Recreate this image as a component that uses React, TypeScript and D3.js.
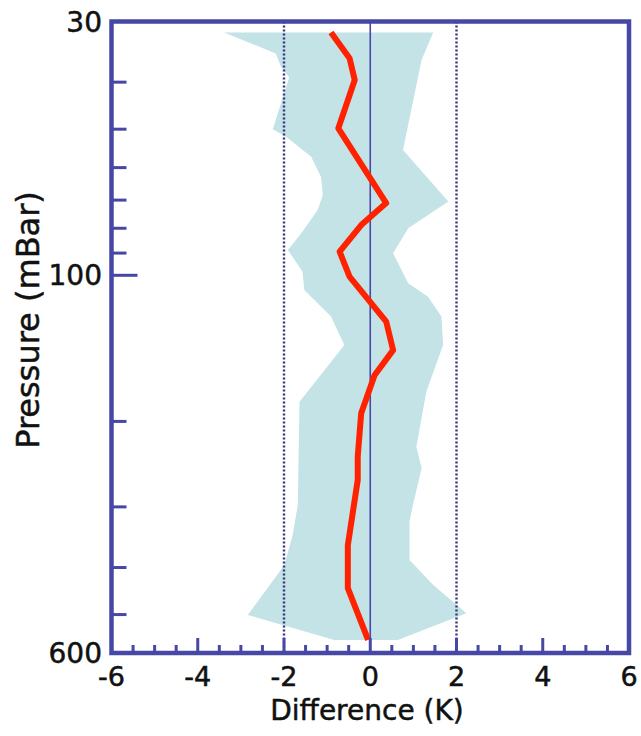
import React from "react";
import * as d3 from "d3";

// Mean difference profile (K) vs pressure (mBar)
const meanPressure = [31.6, 35.7, 39.6, 49.8, 71.0, 78.8, 89.4, 100.6, 124.6, 142.6, 160.6, 192.5, 236, 264, 360, 441, 564];
const meanDiff = [-0.91, -0.48, -0.36, -0.74, 0.37, -0.21, -0.71, -0.48, 0.37, 0.53, 0.1, -0.21, -0.29, -0.29, -0.52, -0.52, -0.05];

// Spread envelope (lower / upper edges)
const lowerPressure = [31.6, 34.9, 37.2, 39.1, 50.0, 51.8, 57.0, 62.7, 68.3, 73.4, 81.9, 88.7, 98.3, 107.2, 121.6, 139.2, 182.2, 297.3, 342.8, 395.2, 501.0, 564];
const lowerDiff = [-3.39, -2.19, -2.07, -1.88, -2.26, -1.95, -1.37, -1.14, -1.1, -1.22, -1.6, -1.91, -1.57, -1.53, -0.91, -0.6, -1.64, -1.68, -1.8, -1.99, -2.84, -0.83];
const upperPressure = [31.6, 36.0, 55.2, 70.5, 80.0, 90.1, 103.8, 110.7, 121.6, 139.2, 173.8, 225.5, 249.9, 297.3, 321.9, 385.9, 434.6, 497.0, 564];
const upperDiff = [1.46, 1.19, 0.76, 1.81, 0.88, 0.53, 0.88, 1.34, 1.65, 1.69, 1.3, 1.07, 1.19, 0.99, 0.91, 0.91, 1.46, 2.23, 0.64];

const xTickLabels = [-6, -4, -2, 0, 2, 4, 6];
const xMinorTicks = d3.range(-6, 6.001, 0.5);
const yTickLabels = [30, 100, 600];
const yMajorTicks = [100];
const yMinorTicks = [40, 50, 60, 70, 80, 90, 200, 300, 400, 500];
const refLines = [-2, 2];

const W = 641;
const H = 736;
const AXIS = "#4747a6";
const BAND = "#c3e3e7";
const RED = "#ff2200";

export default function App() {
  const x = d3.scaleLinear().domain([-6, 6]).range([111.5, 629]);
  const y = d3.scaleLog().domain([30, 600]).range([21.5, 653]);
  const [x0, x1] = x.range();
  const [y0, y1] = y.range();

  const upper = upperPressure.map((p, i) => [upperDiff[i], p] as [number, number]);
  const lower = lowerPressure.map((p, i) => [lowerDiff[i], p] as [number, number]);
  const poly = [...upper, ...lower.slice().reverse()];
  const areaPath = d3.line<[number, number]>().x((d) => x(d[0])).y((d) => y(d[1]))(poly) + "Z";
  const mean = meanPressure.map((p, i) => [meanDiff[i], p] as [number, number]);
  const meanPath = d3.line<[number, number]>().x((d) => x(d[0])).y((d) => y(d[1]))(mean) || "";

  const font = "DejaVu Sans, sans-serif";
  const txt = { fontFamily: font, fill: "#111", stroke: "#111", strokeWidth: 0.5 };

  return (
    <svg width={W} height={H} style={{ position: "absolute", left: 0, top: 0 }}>
      <rect x={0} y={0} width={W} height={H} fill="white" />
      <path d={areaPath} fill={BAND} stroke="none" />
      {refLines.map((v) => (
        <line key={v} x1={x(v)} x2={x(v)} y1={y0} y2={y1} stroke="#34347e" strokeWidth={2.4} strokeDasharray="2,2" />
      ))}
      <line x1={x(0)} x2={x(0)} y1={y0} y2={y1} stroke={AXIS} strokeWidth={1.6} />
      <path d={meanPath} fill="none" stroke={RED} strokeWidth={6} strokeLinejoin="round" strokeLinecap="butt" />
      {xMinorTicks.map((v) => {
        const major = Math.abs(v % 2) < 1e-9;
        return (
          <line key={"xt" + v} x1={x(v)} x2={x(v)} y1={y1} y2={y1 - (major ? 15 : 8)} stroke={AXIS} strokeWidth={3} />
        );
      })}
      {yMinorTicks.map((p) => (
        <line key={"ym" + p} x1={x0} x2={x0 + 15} y1={y(p)} y2={y(p)} stroke={AXIS} strokeWidth={3} />
      ))}
      {yMajorTicks.map((p) => (
        <line key={"yM" + p} x1={x0} x2={x0 + 26} y1={y(p)} y2={y(p)} stroke={AXIS} strokeWidth={3} />
      ))}
      <rect x={x0} y={y0} width={x1 - x0} height={y1 - y0} fill="none" stroke={AXIS} strokeWidth={4.5} />
      {yTickLabels.map((p) => (
        <text key={"yl" + p} x={102} y={y(p)} dy="0.36em" textAnchor="end" fontSize={28} {...txt}>
          {p}
        </text>
      ))}
      {xTickLabels.map((v) => (
        <text key={"xl" + v} x={x(v)} y={686} textAnchor="middle" fontSize={27} {...txt}>
          {String(v)}
        </text>
      ))}
      <text x={367} y={720} textAnchor="middle" fontSize={28} {...txt}>
        Difference (K)
      </text>
      <text transform="translate(38.5,320) rotate(-90)" textAnchor="middle" fontSize={32} {...txt}>
        Pressure (mBar)
      </text>
    </svg>
  );
}
